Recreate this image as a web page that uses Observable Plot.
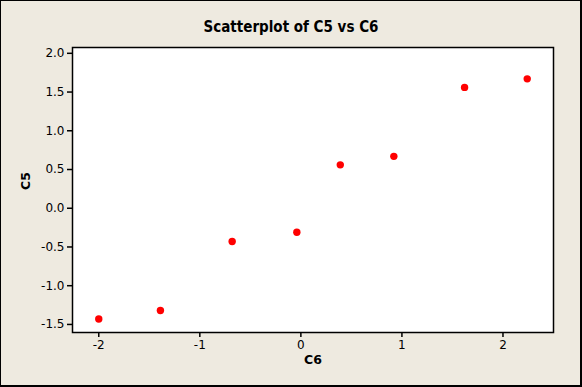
<!DOCTYPE html>
<html>
<head>
<meta charset="utf-8">
<script src="https://cdn.jsdelivr.net/npm/d3@7"></script>
<script src="https://cdn.jsdelivr.net/npm/@observablehq/plot@0.6"></script>
<style>
  html, body { margin: 0; padding: 0; background: #fff; }
  #wrap { position: relative; width: 582px; height: 387px; background: #EEEAE0; }
  #wrap svg { position: absolute; left: 0; top: 0; background: transparent; }
  #title { position: absolute; left: 0; top: 18px; width: 582px; text-align: center;
    font-family: "DejaVu Sans Condensed", "DejaVu Sans", sans-serif; font-stretch: condensed;
    font-weight: bold; font-size: 15px; color: #000; line-height: 18px; }
  #border { position: absolute; left: 0; top: 0; width: 582px; height: 387px; box-sizing: border-box;
    border-left: 1px solid #000; border-top: 1px solid #000; border-right: 2px solid #000; border-bottom: 2px solid #000; pointer-events: none; }
</style>
</head>
<body>
<div id="wrap"><div id="title">Scatterplot of C5 vs C6</div><div id="border"></div></div>
<script>
const titleText = "Scatterplot of C5 vs C6";
const xLabel = "C6";
const yLabel = "C5";
const xValues = [-2.0, -1.39, -0.68, -0.04, 0.39, 0.92, 1.62, 2.24];
const yValues = [-1.43, -1.32, -0.43, -0.31, 0.56, 0.67, 1.56, 1.67];
const xTicks = [-2, -1, 0, 1, 2];
const yTicks = [-1.5, -1.0, -0.5, 0.0, 0.5, 1.0, 1.5, 2.0];

const points = xValues.map((x, i) => ({x, y: yValues[i]}));

const chart = Plot.plot({
  width: 582,
  height: 387,
  marginLeft: 72,
  marginRight: 29,
  marginTop: 47,
  marginBottom: 55,
  style: {fontFamily: "DejaVu Sans, sans-serif", fontSize: "12px", background: "transparent", color: "#000"},
  x: {domain: [-2.26, 2.50]},
  y: {domain: [-1.604, 2.075]},
  marks: [
    Plot.frame({fill: "white", stroke: "black", strokeWidth: 1.5}),
    Plot.axisX({ticks: xTicks, tickSize: 5, tickPadding: 3, tickFormat: d => String(d), label: null, stroke: "black", strokeWidth: 1.5}),
    Plot.axisY({ticks: yTicks, tickSize: 5, tickPadding: 3, tickFormat: d => d.toFixed(1), label: null, stroke: "black", strokeWidth: 1.5}),
    Plot.dot(points, {x: "x", y: "y", r: 3.7, fill: "#FF0000", stroke: "none"}),
    Plot.text([xLabel], {frameAnchor: "bottom", dy: 31, fontWeight: "bold", fontSize: 12.5, fill: "black"}),
    Plot.text([yLabel], {frameAnchor: "left", dx: -47, rotate: -90, fontWeight: "bold", fontSize: 12.5, fill: "black"})
  ]
});
document.getElementById("wrap").insertBefore(chart, document.getElementById("title"));
</script>
</body>
</html>
